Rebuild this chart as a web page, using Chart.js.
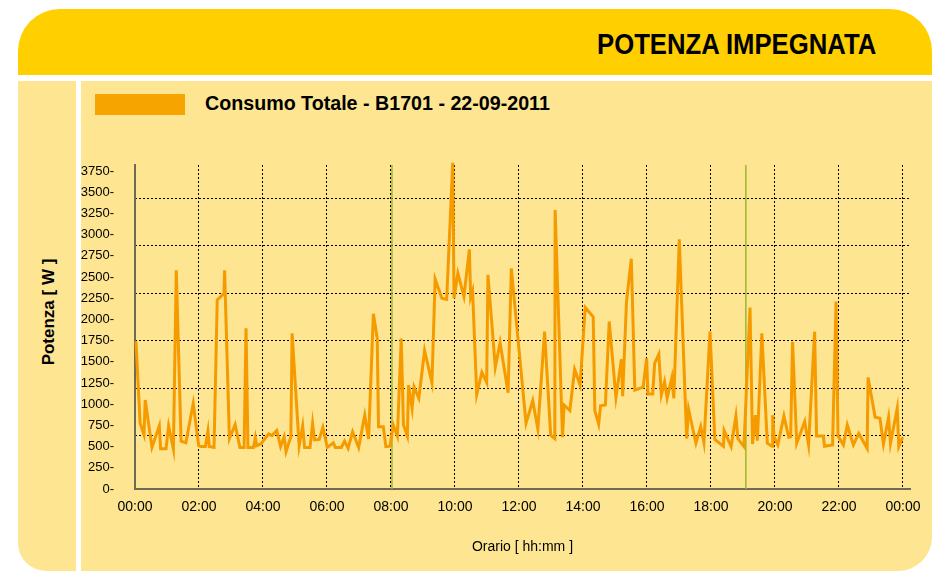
<!DOCTYPE html>
<html>
<head>
<meta charset="utf-8">
<script src="https://cdn.jsdelivr.net/npm/chart.js@4.4.0/dist/chart.umd.min.js"></script>
<style>
  body { margin: 0; width: 934px; height: 571px; overflow: hidden; position: relative; background: #fff;
         font-family: "Liberation Sans", Arial, sans-serif; color: #000; }
  #head { position: absolute; left: 18px; top: 9px; width: 914px; height: 66px; background: #FFCF00;
          border-radius: 42px 42px 0 0; }
  #head h1 { position: absolute; right: 56px; top: 21px; margin: 0; font-size: 29px; line-height: 29px; font-weight: bold;
             transform-origin: right center; white-space: nowrap; }
  #side { position: absolute; left: 18px; top: 81px; width: 58px; height: 490px; background: #FEE592;
          border-radius: 0 0 0 28px; }
  #main { position: absolute; left: 81px; top: 81px; width: 851px; height: 490px; background: #FEE592;
          border-radius: 0 0 34px 0; }
  #ytitle { position: absolute; left: 49px; top: 312px; transform: translate(-50%, -50%) rotate(-90deg);
            font-size: 17px; font-weight: bold; white-space: nowrap; }
  #legend { position: absolute; left: 95px; top: 94px; height: 21px; }
  #legend .box { position: absolute; left: 0; top: 0; width: 90px; height: 21px; background: #F5A400; }
  #legend .txt { position: absolute; left: 110px; top: -1px; font-size: 20px; line-height: 20px; font-weight: bold;
                 white-space: nowrap; transform-origin: left center; }
  canvas { position: absolute; left: 81px; top: 81px; }
</style>
</head>
<body>
<div id="head"><h1>POTENZA IMPEGNATA</h1></div>
<div id="side"></div>
<div id="main"></div>
<div id="ytitle">Potenza [ W ]</div>
<div id="legend"><div class="box"></div><div class="txt"></div></div>
<canvas id="chart" width="853" height="490"></canvas>
<script>
// series (time in hours, power in W)
const seriesLabel = 'Consumo Totale - B1701 - 22-09-2011';
const hours = [
  0.03, 0.16, 0.28, 0.32, 0.53, 0.76, 0.80, 0.97, 1.05, 1.20, 1.29, 1.44, 1.59, 1.82, 1.99,
  2.05, 2.20, 2.28, 2.32, 2.47, 2.57, 2.78, 2.80, 2.95, 3.13, 3.28, 3.41, 3.47, 3.53, 3.70, 3.76, 3.80, 3.95,
  3.99, 4.18, 4.28, 4.43, 4.55, 4.66, 4.72, 4.87, 4.91, 5.13, 5.24, 5.30, 5.47, 5.55, 5.61, 5.76, 5.87,
  6.01, 6.20, 6.26, 6.45, 6.55, 6.66, 6.80, 6.99, 7.18, 7.30, 7.45, 7.57, 7.61, 7.76, 7.84, 7.97,
  8.07, 8.20, 8.32, 8.39, 8.51, 8.55, 8.66, 8.72, 8.87, 9.05, 9.28, 9.38, 9.59, 9.74, 9.93, 9.97,
  10.09, 10.28, 10.45, 10.49, 10.55, 10.68, 10.84, 10.99, 11.03, 11.26, 11.41, 11.66, 11.76,
  12.22, 12.43, 12.59, 12.80, 12.99, 13.12, 13.13, 13.36, 13.41, 13.59, 13.74, 13.91,
  14.07, 14.32, 14.37, 14.49, 14.55, 14.70, 14.82, 15.03, 15.20, 15.24, 15.36, 15.51, 15.62, 15.88,
  15.99, 16.03, 16.18, 16.24, 16.37, 16.45, 16.55, 16.63, 16.78, 16.84, 17.01, 17.24, 17.30, 17.53, 17.68, 17.78, 17.97,
  18.12, 18.39, 18.41, 18.63, 18.78, 18.84, 19.03, 19.22, 19.30, 19.39, 19.45, 19.59, 19.76, 19.91, 19.93, 19.97,
  20.09, 20.28, 20.43, 20.49, 20.55, 20.68, 20.93, 21.05, 21.24, 21.30, 21.51, 21.55, 21.80, 21.91, 21.97,
  22.14, 22.26, 22.45, 22.62, 22.88, 22.91, 23.13, 23.28, 23.39, 23.55, 23.61, 23.82, 23.87, 23.99
];
const watts = [
  1740, 775, 640, 1050, 490, 745, 475, 475, 745, 470, 2580, 565, 545, 1010, 510,
  500, 500, 685, 500, 490, 2230, 2305, 2580, 595, 760, 490, 490, 1895, 490, 490, 605, 510, 535,
  560, 650, 630, 690, 500, 615, 440, 615, 1835, 510, 745, 490, 490, 775, 580, 585, 725,
  490, 545, 490, 490, 565, 480, 675, 490, 870, 590, 2065, 1775, 735, 735, 500, 505,
  755, 625, 1775, 755, 625, 1225, 950, 1205, 1070, 1630, 1255, 2475, 2250, 2235, 3845, 2250,
  2545, 2270, 2825, 2260, 2335, 1115, 1375, 1255, 2525, 1435, 1725, 1135, 2600,
  775, 1040, 705, 1855, 635, 595, 3290, 610, 990, 925, 1410, 1225,
  2140, 2030, 925, 765, 980, 990, 1975, 1080, 1530, 1095, 2210, 2715, 1165, 1200,
  1540, 1120, 1120, 1480, 1590, 1110, 1265, 1070, 1315, 1070, 2945, 595, 940, 540, 735, 545, 1855,
  585, 505, 690, 500, 860, 595, 500, 2140, 530, 870, 570, 1835, 540, 505, 870, 615,
  520, 860, 610, 615, 1735, 540, 795, 520, 1855, 625, 625, 505, 520, 2210, 625,
  520, 755, 520, 655, 480, 1315, 845, 835, 530, 845, 540, 950, 500, 610
];
// x ticks every two hours
const timeTicks = [0, 2, 4, 6, 8, 10, 12, 14, 16, 18, 20, 22, 24];
const timeLabels = ['00:00', '02:00', '04:00', '06:00', '08:00', '10:00', '12:00', '14:00', '16:00', '18:00', '20:00', '22:00', '00:00'];
const powerTicks = [0, 250, 500, 750, 1000, 1250, 1500, 1750, 2000, 2250, 2500, 2750, 3000, 3250, 3500, 3750];
// dotted horizontal guide levels (not aligned to the labels in the original)
const gridLevels = [625, 1186, 1747, 2308, 2869, 3430];
// green marker lines
const markerHours = [8.03, 19.09];

const Y_MAX = 3820;
const X_MAX = 24.22;

// squeeze the bold headings to look like the condensed face of the original
function squeeze(el, width) {
  el.style.transform = 'scaleX(' + (width / el.offsetWidth) + ')';
}
const legendText = document.querySelector('#legend .txt');
legendText.textContent = seriesLabel;
squeeze(legendText, 345);
squeeze(document.querySelector('#head h1'), 279);

Chart.defaults.font.family = '"Liberation Sans", Arial, sans-serif';
Chart.defaults.color = '#000';

const markerSets = markerHours.map(h => ({
  data: [{x: h, y: 0}, {x: h, y: Y_MAX}],
  borderColor: '#9CB52E',
  borderWidth: 1.5,
  pointRadius: 0,
  order: 2
}));

new Chart(document.getElementById('chart').getContext('2d'), {
  type: 'line',
  data: {
    datasets: [{
      label: seriesLabel,
      data: hours.map((h, i) => ({x: h, y: watts[i]})),
      borderColor: '#F59B00',
      borderWidth: 3,
      pointRadius: 0,
      tension: 0,
      clip: false,
      order: 1
    }, ...markerSets]
  },
  options: {
    responsive: false,
    animation: false,
    layout: {padding: {top: 84, right: 24, left: 0, bottom: 0}},
    plugins: {legend: {display: false}, tooltip: {enabled: false}},
    scales: {
      x: {
        type: 'linear',
        min: 0,
        max: X_MAX,
        afterBuildTicks: axis => { axis.ticks = timeTicks.map(v => ({value: v})); },
        afterFit: scale => { scale.height = 82; },
        ticks: {
          callback: (v, i) => timeLabels[i],
          autoSkip: false,
          maxRotation: 0,
          padding: 10,
          font: {size: 14}
        },
        grid: {color: '#000', lineWidth: 1, drawTicks: false},
        border: {display: true, color: '#6E6A58', width: 2, dash: [2, 2]},
        title: {display: true, text: 'Orario [ hh:mm ]', font: {size: 14}, padding: {top: 0, bottom: 15}}
      },
      y: {
        type: 'linear',
        position: 'left',
        min: 0,
        max: Y_MAX,
        afterBuildTicks: axis => { axis.ticks = powerTicks.map(v => ({value: v})); },
        afterFit: scale => { scale.width = 54; },
        ticks: {callback: v => v + '-', padding: 13, font: {size: 13}},
        grid: {display: false},
        border: {display: true, color: '#6E6A58', width: 2}
      },
      y2: {
        type: 'linear',
        position: 'left',
        min: 0,
        max: Y_MAX,
        afterBuildTicks: axis => { axis.ticks = gridLevels.map(v => ({value: v})); },
        afterFit: scale => { scale.width = 0; },
        ticks: {display: false},
        grid: {color: '#000', lineWidth: 1, drawTicks: false},
        border: {display: false, dash: [2, 2]}
      }
    }
  }
});
</script>
</body>
</html>
